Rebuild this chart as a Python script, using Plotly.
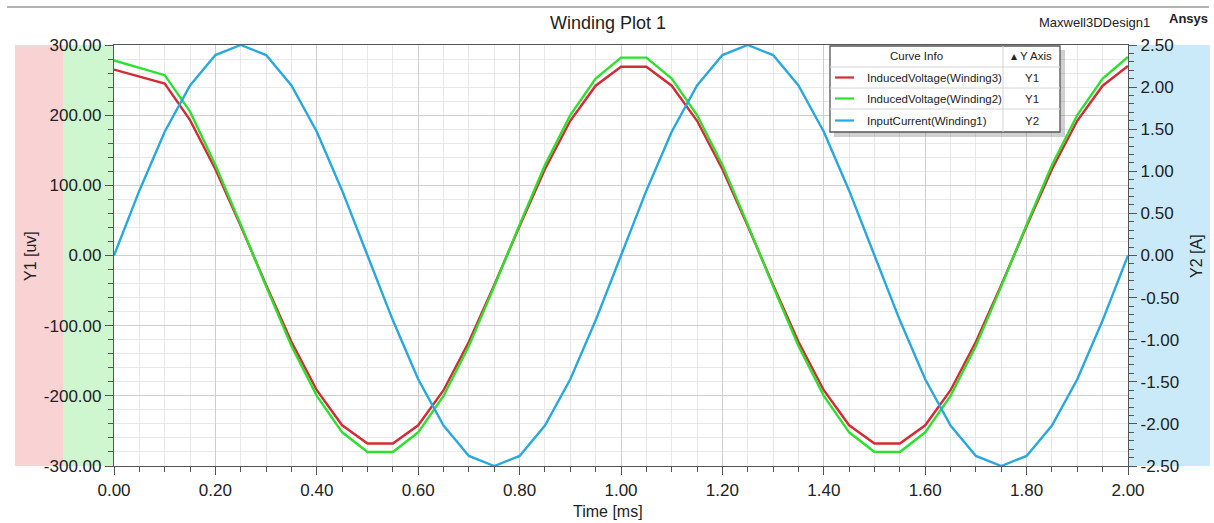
import plotly.graph_objects as go

# Sample times [ms]
time_current = [0.00, 0.05, 0.10, 0.15, 0.20, 0.25, 0.30, 0.35, 0.40, 0.45,
                0.50, 0.55, 0.60, 0.65, 0.70, 0.75, 0.80, 0.85, 0.90, 0.95,
                1.00, 1.05, 1.10, 1.15, 1.20, 1.25, 1.30, 1.35, 1.40, 1.45,
                1.50, 1.55, 1.60, 1.65, 1.70, 1.75, 1.80, 1.85, 1.90, 1.95, 2.00]
time_voltage = [0.00, 0.10, 0.15, 0.20, 0.25, 0.30, 0.35, 0.40, 0.45,
                0.50, 0.55, 0.60, 0.65, 0.70, 0.75, 0.80, 0.85, 0.90, 0.95,
                1.00, 1.05, 1.10, 1.15, 1.20, 1.25, 1.30, 1.35, 1.40, 1.45,
                1.50, 1.55, 1.60, 1.65, 1.70, 1.75, 1.80, 1.85, 1.90, 1.95, 2.00]

# InputCurrent(Winding1) [A]
input_current = [0.00, 0.77, 1.47, 2.02, 2.38, 2.50, 2.38, 2.02, 1.47, 0.77,
                 0.00, -0.77, -1.47, -2.02, -2.38, -2.50, -2.38, -2.02, -1.47, -0.77,
                 0.00, 0.77, 1.47, 2.02, 2.38, 2.50, 2.38, 2.02, 1.47, 0.77,
                 0.00, -0.77, -1.47, -2.02, -2.38, -2.50, -2.38, -2.02, -1.47, -0.77, 0.00]

# InducedVoltage(Winding3) [uV]
voltage_w3 = [265, 245, 193, 123, 42, -42, -123, -192, -242, -268,
              -268, -242, -192, -123, -42, 42, 123, 192, 242, 269,
              269, 242, 192, 123, 42, -42, -123, -192, -242, -268,
              -268, -242, -192, -123, -42, 42, 123, 192, 242, 270]

# InducedVoltage(Winding2) [uV]
voltage_w2 = [278, 257, 205, 129, 44, -44, -129, -200, -252, -280,
              -280, -252, -200, -129, -44, 44, 129, 200, 252, 282,
              282, 252, 200, 129, 44, -44, -129, -200, -252, -280,
              -280, -252, -200, -129, -44, 44, 129, 200, 252, 283]

# Axis ticks
x_tickvals = [0.0, 0.2, 0.4, 0.6, 0.8, 1.0, 1.2, 1.4, 1.6, 1.8, 2.0]
x_ticktext = ["0.00", "0.20", "0.40", "0.60", "0.80", "1.00", "1.20", "1.40", "1.60", "1.80", "2.00"]
y1_tickvals = [-300, -200, -100, 0, 100, 200, 300]
y1_ticktext = ["-300.00", "-200.00", "-100.00", "0.00", "100.00", "200.00", "300.00"]
y2_tickvals = [-2.5, -2.0, -1.5, -1.0, -0.5, 0.0, 0.5, 1.0, 1.5, 2.0, 2.5]
y2_ticktext = ["-2.50", "-2.00", "-1.50", "-1.00", "-0.50", "0.00", "0.50", "1.00", "1.50", "2.00", "2.50"]

curve_names = ["InducedVoltage(Winding3)", "InducedVoltage(Winding2)", "InputCurrent(Winding1)"]
curve_axes = ["Y1", "Y1", "Y2"]
curve_colors = ["#d42a35", "#2ee02e", "#27a8df"]

W, H = 1214, 523
L, R, T, B = 114, 1128, 45, 466
FONT = "Liberation Sans, Arial, sans-serif"
TEXT = "#222222"


def px(x):
    return (x - L) / (R - L)


def py(y):
    return (B - y) / (B - T)


def label(x, y, text, size, xanchor="center", angle=0):
    return dict(x=px(x), y=py(y), xref="paper", yref="paper", text=text, showarrow=False,
                xanchor=xanchor, yanchor="middle", textangle=angle,
                font=dict(family=FONT, size=size, color=TEXT))


fig = go.Figure()
fig.add_trace(go.Scatter(x=time_voltage, y=voltage_w3, mode="lines",
                         line=dict(color=curve_colors[0], width=2.4), name=curve_names[0]))
fig.add_trace(go.Scatter(x=time_voltage, y=voltage_w2, mode="lines",
                         line=dict(color=curve_colors[1], width=2.4), name=curve_names[1]))
fig.add_trace(go.Scatter(x=time_current, y=input_current, mode="lines", yaxis="y2",
                         line=dict(color=curve_colors[2], width=2.4), name=curve_names[2]))

shapes = []
annotations = []

# Axis side bands
shapes.append(dict(type="rect", xref="paper", yref="paper", x0=px(15), x1=px(63),
                   y0=0, y1=1, fillcolor="#f9d3d3", line=dict(width=0), layer="below"))
shapes.append(dict(type="rect", xref="paper", yref="paper", x0=px(63), x1=px(113),
                   y0=0, y1=1, fillcolor="#cff7cf", line=dict(width=0), layer="below"))
shapes.append(dict(type="rect", xref="paper", yref="paper", x0=px(1129), x1=px(1210),
                   y0=0, y1=1, fillcolor="#cbeaf9", line=dict(width=0), layer="below"))
# Header rule
shapes.append(dict(type="line", xref="paper", yref="paper", x0=px(7), x1=px(1209),
                   y0=py(7), y1=py(7), line=dict(color="#9a9a9a", width=1.5)))

# Curve-info table
bx0, bx1, by0, by1 = 830, 1060, 46, 132
col = 1003
rows = [46, 67, 88, 109, 132]
shapes.append(dict(type="rect", xref="paper", yref="paper", x0=px(bx0 + 4), x1=px(bx1 + 5),
                   y0=py(by1 + 5), y1=py(by0 + 4), fillcolor="rgba(120,120,120,0.35)",
                   line=dict(width=0)))
shapes.append(dict(type="rect", xref="paper", yref="paper", x0=px(bx0), x1=px(bx1),
                   y0=py(by1), y1=py(by0), fillcolor="white",
                   line=dict(color="#555555", width=1.3)))
for ry in rows[1:-1]:
    shapes.append(dict(type="line", xref="paper", yref="paper", x0=px(bx0), x1=px(bx1),
                       y0=py(ry), y1=py(ry), line=dict(color="#d4d4d4", width=1)))
shapes.append(dict(type="line", xref="paper", yref="paper", x0=px(col), x1=px(col),
                   y0=py(by1), y1=py(by0), line=dict(color="#d4d4d4", width=1)))

annotations.append(label((bx0 + col) / 2, (rows[0] + rows[1]) / 2, "Curve Info", 11.5))
annotations.append(label((col + bx1) / 2, (rows[0] + rows[1]) / 2, "\u25b4 Y Axis", 11.5))
for i, (name, ax, color) in enumerate(zip(curve_names, curve_axes, curve_colors)):
    cy = (rows[i + 1] + rows[i + 2]) / 2
    shapes.append(dict(type="line", xref="paper", yref="paper", x0=px(835), x1=px(854),
                       y0=py(cy), y1=py(cy), line=dict(color=color, width=2.2)))
    annotations.append(label(865, cy, name, 11.5, xanchor="left"))
    annotations.append(label((col + bx1) / 2, cy, ax, 11.5))

# Titles and labels
annotations.append(label(608, 23, "Winding Plot 1", 18))
annotations.append(label(1152, 22, "Maxwell3DDesign1", 13, xanchor="right"))
annotations.append(label(1188, 18, "<b>Ansys</b>", 13))
annotations.append(label(608, 512, "Time [ms]", 16))
annotations.append(label(30, 256, "Y1 [uv]", 16, angle=-90))
annotations.append(label(1196, 256, "Y2 [A]", 16, angle=-90))

tickfont = dict(family=FONT, size=17, color=TEXT)
axis_line = "#555555"

fig.update_layout(
    width=W, height=H,
    margin=dict(l=L, r=W - R, t=T, b=H - B, pad=0),
    paper_bgcolor="white", plot_bgcolor="white",
    showlegend=False,
    shapes=shapes, annotations=annotations,
    xaxis=dict(range=[0, 2], tickmode="array", tickvals=x_tickvals, ticktext=x_ticktext,
               showgrid=True, gridcolor="#cfcfcf", gridwidth=1,
               minor=dict(tickmode="linear", tick0=0, dtick=0.05, showgrid=True,
                          gridcolor="#e8e8e8", ticks="outside", ticklen=5, tickcolor=axis_line),
               ticks="outside", ticklen=8, tickcolor=axis_line,
               showline=True, linecolor=axis_line, linewidth=1.2, mirror=True,
               zeroline=False, tickfont=tickfont),
    yaxis=dict(range=[-300, 300], tickmode="array", tickvals=y1_tickvals, ticktext=y1_ticktext,
               showgrid=True, gridcolor="#cfcfcf", gridwidth=1,
               minor=dict(tickmode="linear", tick0=-300, dtick=20, showgrid=True,
                          gridcolor="#e8e8e8", ticks="outside", ticklen=5, tickcolor=axis_line),
               ticks="outside", ticklen=8, tickcolor=axis_line,
               showline=True, linecolor=axis_line, linewidth=1.2,
               zeroline=False, tickfont=tickfont),
    yaxis2=dict(range=[-2.5, 2.5], overlaying="y", side="right", tickmode="array",
                tickvals=y2_tickvals, ticktext=y2_ticktext, showgrid=False,
                minor=dict(tickmode="linear", tick0=-2.5, dtick=0.1, ticks="outside",
                           ticklen=5, tickcolor=axis_line),
                ticks="outside", ticklen=8, tickcolor=axis_line,
                showline=True, linecolor=axis_line, linewidth=1.2,
                zeroline=False, tickfont=tickfont),
)

fig.write_html("out.html")
